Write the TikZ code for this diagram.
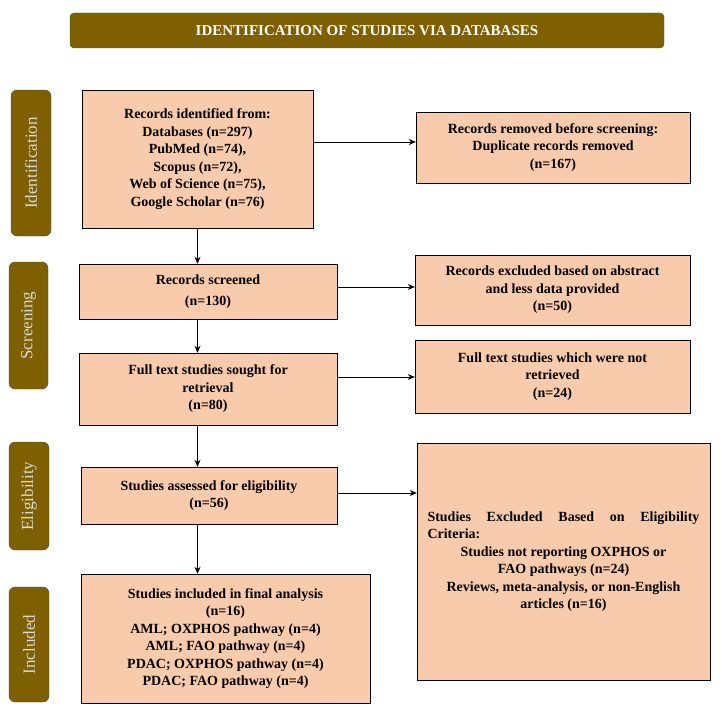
\documentclass[tikz,border=0pt]{standalone}
\usepackage{fontspec}
\setmainfont{Liberation Serif}
\usetikzlibrary{arrows.meta,positioning}
\definecolor{olivebrown}{HTML}{7F6000}
\definecolor{peach}{HTML}{F8CBAD}
\tikzset{
  box/.style={draw=black, fill=peach, align=center, inner sep=2pt,
    font=\fontsize{14}{17.5}\selectfont\bfseries},
  side/.style={draw=black!70, fill=olivebrown, rounded corners=6pt},
  sidetext/.style={rotate=90, text=white!85!black, font=\fontsize{17}{20}\selectfont},
  arr/.style={-{Stealth[length=7pt,width=6pt]}, thick}
}
\begin{document}
\begin{tikzpicture}[x=1pt,y=-1pt]
\useasboundingbox (0,0) rectangle (722,725);
% title
\node[draw=green!50!black, fill=olivebrown, rounded corners=4pt, text=white,
  minimum width=594pt, minimum height=35pt, font=\fontsize{15}{18}\selectfont\bfseries]
  (title) at (367,30.5) {IDENTIFICATION OF STUDIES VIA DATABASES};
% side labels
\node[side, minimum width=40pt, minimum height=146pt] (sid) at (31,163) {};
\node[sidetext] at (sid) {Identification};
\node[side, minimum width=39pt, minimum height=127pt] (ssc) at (28.5,325.5) {};
\node[sidetext] at (ssc) {Screening};
\node[side, minimum width=40pt, minimum height=108pt] (sel) at (29,496) {};
\node[sidetext] at (sel) {Eligibility};
\node[side, minimum width=40pt, minimum height=115pt] (sin) at (29,644.5) {};
\node[sidetext] at (sin) {Included};
% main column
\node[box, minimum width=231pt, minimum height=138pt] (ident) at (197.5,159)
  {Records identified from:\\Databases (n=297)\\PubMed (n=74),\\Scopus (n=72),\\Web of Science (n=75),\\Google Scholar (n=76)};
\node[box, minimum width=258pt, minimum height=55pt] (screen) at (208,291.5)
  {Records screened\\[3pt](n=130)};
\node[box, minimum width=258pt, minimum height=72pt] (full) at (208,389)
  {Full text studies sought for\\retrieval\\(n=80)};
\node[box, minimum width=256pt, minimum height=57pt] (assess) at (209,495.5)
  {Studies assessed for eligibility\\(n=56)};
\node[box, minimum width=289pt, minimum height=129pt] (incl) at (225.5,638.5)
  {Studies included in final analysis\\(n=16)\\AML; OXPHOS pathway (n=4)\\AML; FAO pathway (n=4)\\PDAC; OXPHOS pathway (n=4)\\PDAC; FAO pathway (n=4)};
% right column
\node[box, minimum width=274pt, minimum height=71pt] (removed) at (553,147.5)
  {Records removed before screening:\\Duplicate records removed\\(n=167)};
\node[box, minimum width=275pt, minimum height=70pt] (exabs) at (552.5,290)
  {Records excluded based on abstract\\and less data provided\\(n=50)};
\node[box, minimum width=275pt, minimum height=73pt] (notret) at (552.5,376.5)
  {Full text studies which were not\\retrieved\\(n=24)};
\node[box, minimum width=293pt, minimum height=237pt] (exelig) at (563.5,561.5)
  {\makebox[272pt][s]{Studies Excluded Based on Eligibility}\\
   \makebox[272pt][l]{Criteria:}\\Studies not reporting OXPHOS or\\FAO pathways (n=24)\\Reviews, meta-analysis, or non-English\\articles (n=16)};
% connectors
\draw[arr] (ident.south) -- (ident.south |- screen.north);
\draw[arr] (ident.south |- screen.south) -- (ident.south |- full.north);
\draw[arr] (ident.south |- full.south) -- (ident.south |- assess.north);
\draw[arr] (ident.south |- assess.south) -- (ident.south |- incl.north);
\draw[arr] (ident.east |- 0,142) -- (removed.west |- 0,142);
\draw[arr] (screen.east |- 0,287) -- (exabs.west |- 0,287);
\draw[arr] (full.east |- 0,377) -- (notret.west |- 0,377);
\draw[arr] (assess.east |- 0,493) -- (exelig.west |- 0,493);
\end{tikzpicture}
\end{document}
